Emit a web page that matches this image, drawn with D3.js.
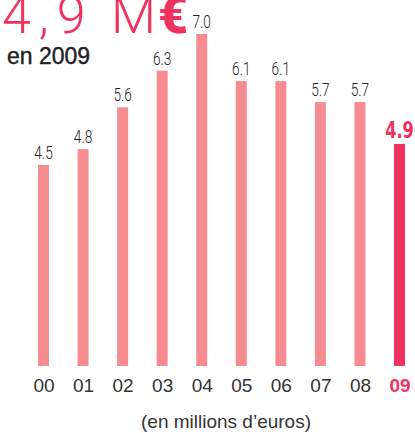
<!DOCTYPE html>
<html>
<head>
<meta charset="utf-8">
<script src="https://cdn.jsdelivr.net/npm/d3@7"></script>
<style>
  body { margin: 0; background: #fff; }
  svg { display: block; }
</style>
</head>
<body>
<svg width="415" height="433"></svg>
<script>
// chart data
var years = ["00", "01", "02", "03", "04", "05", "06", "07", "08", "09"];
var values = [4.5, 4.8, 5.6, 6.3, 7.0, 6.1, 6.1, 5.7, 5.7, 4.9];
var labels = ["4.5", "4.8", "5.6", "6.3", "7.0", "6.1", "6.1", "5.7", "5.7", "4.9"];
var highlight = "09";

var svg = d3.select("svg");
var barColor = "#f68c8f",
    hiColor = "#f0325f",
    textColor = "#333";

// positions of bars (centers) and heights
var x = d3.scalePoint().domain(years).range([43.5, 399.5]);
var y = d3.scaleLinear().domain([0.66, 7.0]).range([366, 34]);
var barW = 11;

var data = years.map(function(d, i) {
    return { year: d, value: values[i], label: labels[i] };
});

// bars
svg.selectAll(".bar")
    .data(data)
    .enter().append("rect")
    .attr("class", "bar")
    .attr("x", function(d) { return x(d.year) - barW / 2; })
    .attr("y", function(d) { return y(d.value); })
    .attr("width", barW)
    .attr("height", function(d) { return y.range()[0] - y(d.value); })
    .attr("fill", function(d) { return d.year == highlight ? hiColor : barColor; });

// value labels, squeezed horizontally to look condensed
svg.selectAll(".val")
    .data(data)
    .enter().append("text")
    .attr("class", "val")
    .attr("transform", function(d) {
        var s = d.year == highlight ? 0.78 : 0.76;
        return "translate(" + x(d.year) + "," + (y(d.value) - 6) + ") scale(" + s + ",1)";
    })
    .attr("text-anchor", "middle")
    .style("font-family", function(d) {
        return d.year == highlight ? "'DejaVu Sans Condensed', 'DejaVu Sans', sans-serif" : "Roboto, sans-serif";
    })
    .style("font-size", function(d) { return d.year == highlight ? "23px" : "18px"; })
    .style("font-weight", function(d) { return d.year == highlight ? "bold" : "300"; })
    .style("fill", function(d) { return d.year == highlight ? hiColor : "#222"; })
    .text(function(d) { return d.label; });

// x axis (no line, no ticks)
var xAxis = svg.append("g")
    .attr("transform", "translate(0,366)")
    .call(d3.axisBottom(x).tickSize(0).tickPadding(26));
xAxis.select(".domain").remove();
xAxis.selectAll("text")
    .style("font-family", "'Liberation Sans', Arial, sans-serif")
    .style("font-size", "19px")
    .style("font-weight", function(d) { return d == highlight ? "bold" : "normal"; })
    .style("fill", function(d) { return d == highlight ? hiColor : textColor; })
    .attr("dy", "0");

// title
var title = svg.append("text")
    .attr("y", 33)
    .style("font-family", "Roboto, 'Open Sans', sans-serif")
    .style("font-size", "52px")
    .style("fill", hiColor);
title.append("tspan").attr("x", 2).style("font-weight", "300").style("letter-spacing", "8px").text("4,9");
title.append("tspan").attr("x", 111).style("font-weight", "300").text("M");
title.append("tspan").attr("x", 158).style("font-weight", "900").text("€");

svg.append("text")
    .attr("x", 7)
    .attr("y", 64)
    .style("font-family", "'Liberation Sans', Arial, sans-serif")
    .style("font-size", "23px")
    .style("fill", "#222")
    .style("stroke", "#222")
    .style("stroke-width", "0.4px")
    .text("en 2009");

// caption
svg.append("text")
    .attr("x", 226)
    .attr("y", 428)
    .attr("text-anchor", "middle")
    .style("font-family", "'Liberation Sans', Arial, sans-serif")
    .style("font-size", "19px")
    .style("fill", textColor)
    .text("(en millions d’euros)");
</script>
</body>
</html>
